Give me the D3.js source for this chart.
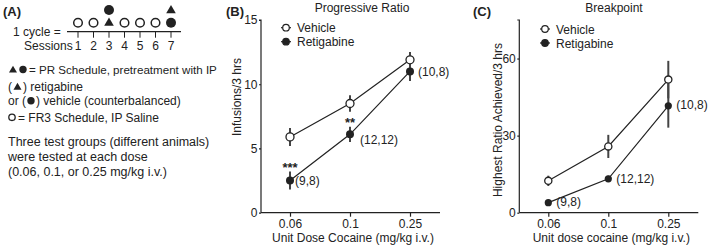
<!DOCTYPE html>
<html lang="en">
  <head>
    <meta charset="utf-8"/>
    <script src="https://d3js.org/d3.v7.min.js"></script>
    <style>
      body { margin: 0; background: #fff; }
      svg { font-family: "Liberation Sans", Arial, sans-serif; fill: #222; }
      text { fill: #222; }
    </style>
  </head>
  <body>
    <svg id="fig" width="709" height="246"></svg>
  <script>
    // data
    const doses = ["0.06", "0.1", "0.25"];
    const nLabels = ["(9,8)", "(12,12)", "(10,8)"];
    const stars = ["***", "**", ""];

    const infVehicle = [5.9, 8.5, 11.9];
    const infVehicleErr = [0.7, 0.65, 0.6];
    const infRetig = [2.5, 6.1, 11.0];
    const infRetigErr = [0.7, 0.6, 0.75];

    const bpVehicle = [12.4, 25.8, 51.8];
    const bpVehicleErr = [2, 4.5, 7.3];
    const bpRetig = [3.9, 13.2, 41.6];
    const bpRetigErr = [1, 1.2, 8.5];

    const sessions = [1, 2, 3, 4, 5, 6, 7];

    const svg = d3.select("#fig");
    const ink = "#222";

    // ---------- panel A ----------
    const A = svg.append("g");
    A.append("text").attr("x", 3).attr("y", 16).attr("font-size", 13).attr("font-weight", "bold").text("(A)");

    const sx = d3.scaleLinear().domain([1, 7]).range([78, 171]);
    const lineY = 31.7;
    A.append("text").attr("x", 13).attr("y", 36).attr("font-size", 12).text("1 cycle =");
    A.append("line").attr("x1", 67).attr("x2", 181).attr("y1", lineY).attr("y2", lineY)
      .attr("stroke", ink).attr("stroke-width", 1.2);
    A.selectAll(".stick").data(sessions).enter().append("line")
      .attr("x1", d => sx(d)).attr("x2", d => sx(d))
      .attr("y1", lineY).attr("y2", lineY + 6).attr("stroke", ink).attr("stroke-width", 1);
    A.append("text").attr("x", 24).attr("y", 50).attr("font-size", 12).text("Sessions");
    A.selectAll(".snum").data(sessions).enter().append("text")
      .attr("x", d => sx(d)).attr("y", 50).attr("text-anchor", "middle").attr("font-size", 12).text(d => d);

    const tri = d3.symbol().type(d3.symbolTriangle).size(40);
    sessions.forEach(s => {
      const x = sx(s);
      if (s === 3) {
        A.append("circle").attr("cx", x).attr("cy", 10).attr("r", 5).attr("fill", ink);
        A.append("path").attr("d", tri).attr("transform", `translate(${x},23)`).attr("fill", ink);
      } else if (s === 7) {
        A.append("path").attr("d", tri).attr("transform", `translate(${x},10.5)`).attr("fill", ink);
        A.append("circle").attr("cx", x).attr("cy", 22.7).attr("r", 5).attr("fill", ink);
      } else {
        A.append("circle").attr("cx", x).attr("cy", 22.7).attr("r", 4.3)
          .attr("fill", "#fff").attr("stroke", ink).attr("stroke-width", 1.5);
      }
    });

    // legend text of panel A, symbols are drawn between text pieces
    const tri2 = d3.symbol().type(d3.symbolTriangle).size(28);
    function txt(x, y, s, fs) {
      const t = A.append("text").attr("x", x).attr("y", y + 4.5).attr("font-size", fs || 12).text(s);
      return x + t.node().getComputedTextLength();
    }
    function dot(x, y, open) {
      A.append("circle").attr("cx", x).attr("cy", y).attr("r", open ? 3.2 : 3.7)
        .attr("fill", open ? "#fff" : ink).attr("stroke", ink).attr("stroke-width", open ? 1.3 : 0);
    }
    function triangle(x, y) {
      A.append("path").attr("d", tri2).attr("transform", `translate(${x},${y + 0.8})`).attr("fill", ink);
    }
    // line 1
    triangle(13, 69.5); dot(23, 69.5, false);
    txt(29, 69.5, "= PR Schedule, pretreatment with IP", 11.6);
    // line 2
    let e = txt(8, 86.7, "(");
    triangle(e + 5.5, 86.7);
    txt(e + 11, 86.7, ") retigabine");
    // line 3
    e = txt(8, 100.7, "or (");
    dot(e + 5, 100.7, false);
    txt(e + 10, 100.7, ") vehicle (counterbalanced)");
    // line 4
    dot(12, 117.3, true);
    txt(18, 117.3, "= FR3 Schedule, IP Saline");
    txt(8, 141.7, "Three test groups (different animals)", 12.5);
    txt(8, 156, "were tested at each dose", 12.5);
    txt(8, 171.7, "(0.06, 0.1, or 0.25 mg/kg i.v.)", 12.5);

    // ---------- chart panels ----------
    function panel(opts) {
      const g = svg.append("g");
      const x = d3.scalePoint().domain(doses).range([opts.x0 + 29, opts.x0 + 149]);
      const y = d3.scaleLinear().domain(opts.ydom).range([212.7, 20]);

      g.append("text").attr("x", opts.letterX).attr("y", 16).attr("font-size", 13)
        .attr("font-weight", "bold").text(opts.letter);
      g.append("text").attr("x", opts.titleX).attr("y", 12).attr("text-anchor", "middle")
        .attr("font-size", 12).text(opts.title);

      const ya = g.append("g").attr("transform", `translate(${opts.x0},0)`)
        .call(d3.axisLeft(y).tickValues(opts.yticks).tickSize(2).tickPadding(1.5));
      ya.select(".domain").attr("d", `M-2,${y(opts.ydom[1])}H0V${y(0)}`);
      const xa = g.append("g").attr("transform", `translate(0,${y(0)})`)
        .call(d3.axisBottom(x).tickSize(4).tickSizeOuter(0).tickPadding(3));
      xa.select(".domain").attr("d", `M${opts.x0},0H${opts.x0 + 179}`);
      [ya, xa].forEach(a => {
        a.selectAll("text").attr("font-size", 12).attr("font-family", null).attr("fill", ink);
        a.selectAll("line,path").attr("stroke", ink).attr("stroke-width", 1.2);
      });

      g.append("text").attr("transform", `translate(${opts.ylabX},${opts.ylabY}) rotate(-90)`)
        .attr("text-anchor", "middle").attr("font-size", 12).text(opts.ylabel);
      g.append("text").attr("x", opts.x0 + 92).attr("y", 242).attr("text-anchor", "middle")
        .attr("font-size", 12).text(opts.xlabel);

      const line = d3.line().x((d, i) => x(doses[i])).y(d => y(d));
      const series = [
        { v: opts.veh, e: opts.vehErr, open: true },
        { v: opts.ret, e: opts.retErr, open: false }
      ];
      series.forEach(s => {
        g.append("g").selectAll("line").data(s.v).enter().append("line")
          .attr("x1", (d, i) => x(doses[i])).attr("x2", (d, i) => x(doses[i]))
          .attr("y1", (d, i) => y(d - s.e[i])).attr("y2", (d, i) => y(d + s.e[i]))
          .attr("stroke", "#444").attr("stroke-width", 2);
      });
      series.forEach(s => {
        g.append("path").datum(s.v).attr("d", line).attr("fill", "none")
          .attr("stroke", ink).attr("stroke-width", 1.2);
      });
      series.forEach(s => {
        g.append("g").selectAll("circle").data(s.v).enter().append("circle")
          .attr("cx", (d, i) => x(doses[i])).attr("cy", d => y(d)).attr("r", opts.r)
          .attr("fill", s.open ? "#fff" : ink).attr("stroke", ink).attr("stroke-width", s.open ? 1.3 : 0);
      });

      // n labels
      g.selectAll(".nl").data(nLabels).enter().append("text")
        .attr("x", (d, i) => x(doses[i]) + opts.nOff[i][0])
        .attr("y", (d, i) => y(opts.ret[i]) + opts.nOff[i][1] + 4.5)
        .attr("font-size", 12).text(d => d);

      // legend
      const lg = g.append("g");
      [["Vehicle", true], ["Retigabine", false]].forEach((l, i) => {
        const ly = opts.legY + i * 14;
        lg.append("line").attr("x1", opts.legX - 5).attr("x2", opts.legX + 5)
          .attr("y1", ly).attr("y2", ly).attr("stroke", ink).attr("stroke-width", 1.2);
        lg.append("circle").attr("cx", opts.legX).attr("cy", ly).attr("r", 3.3)
          .attr("fill", l[1] ? "#fff" : ink).attr("stroke", ink).attr("stroke-width", 1.2);
        lg.append("text").attr("x", opts.legX + 11).attr("y", ly + 4.5).attr("font-size", 12).text(l[0]);
      });
      return { g, x, y };
    }

    const B = panel({
      x0: 261, letter: "(B)", letterX: 226, title: "Progressive Ratio", titleX: 362,
      ydom: [0, 15], yticks: [0, 5, 10, 15],
      ylabel: "Infusions/3 hrs", ylabX: 241, ylabY: 97,
      xlabel: "Unit Dose Cocaine (mg/kg i.v.)",
      veh: infVehicle, vehErr: infVehicleErr, ret: infRetig, retErr: infRetigErr,
      r: 4, nOff: [[5, 0], [10, 5], [8, 0]], legX: 286, legY: 27.7
    });
    B.g.selectAll(".star").data(stars).enter().append("text")
      .attr("x", (d, i) => B.x(doses[i])).attr("y", (d, i) => B.y(infRetig[i] + infRetigErr[i]))
      .attr("text-anchor", "middle").attr("font-size", 13).attr("font-weight", "bold").text(d => d);

    panel({
      x0: 519.3, letter: "(C)", letterX: 473, title: "Breakpoint", titleX: 614,
      ydom: [0, 75], yticks: [0, 30, 60],
      ylabel: "Highest Ratio Achieved/3 hrs", ylabX: 502, ylabY: 120,
      xlabel: "Unit dose cocaine (mg/kg i.v.)",
      veh: bpVehicle, vehErr: bpVehicleErr, ret: bpRetig, retErr: bpRetigErr,
      r: 3.6, nOff: [[8, -1], [8, 0], [8, -1]], legX: 545, legY: 29
    });
  </script>
  </body>
</html>
